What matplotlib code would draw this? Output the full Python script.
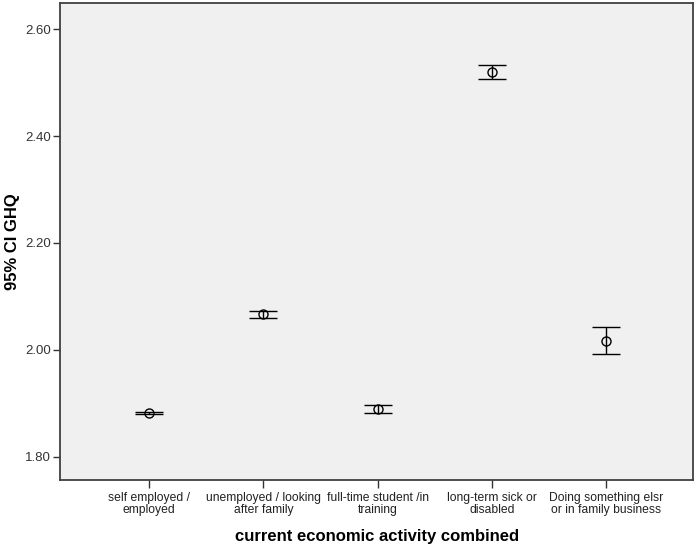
import matplotlib.pyplot as plt
import numpy as np

plt.rcParams['font.family'] = ['Liberation Sans', 'DejaVu Sans']

categories = [
    "self employed /\nemployed",
    "unemployed / looking\nafter family",
    "full-time student /in\ntraining",
    "long-term sick or\ndisabled",
    "Doing something elsr\nor in family business",
]
means = [1.883, 2.067, 1.890, 2.520, 2.017]
ci_low = [1.881, 2.060, 1.883, 2.507, 1.992]
ci_high = [1.885, 2.073, 1.898, 2.533, 2.043]
y_ticks = [1.80, 2.00, 2.20, 2.40, 2.60]


def main():
    fig = plt.figure(figsize=(6.98, 5.47), dpi=100)
    ax = fig.add_axes([0.086, 0.1225, 0.907, 0.872])
    ax.set_facecolor('#f0f0f0')

    x = np.arange(1, len(categories) + 1)
    means_arr = np.array(means)
    yerr = [means_arr - np.array(ci_low), np.array(ci_high) - means_arr]

    ax.errorbar(x, means_arr, yerr=yerr, fmt='o', mfc='none', mec='black',
                ms=6.5, mew=1.0, ecolor='black', elinewidth=1.0,
                capsize=10, capthick=1.3)

    ax.set_xlim(0.22, 5.76)
    ax.set_ylim(1.757, 2.6486)
    ax.set_xticks(x)
    ax.set_xticklabels(categories, fontsize=8.7, color='#222222',
                       linespacing=1.0)
    ax.set_yticks(y_ticks)
    ax.set_yticklabels([f"{v:.2f}" for v in y_ticks], fontsize=9.5,
                       color='#333333')
    ax.tick_params(axis='y', direction='out', length=5, width=1,
                   color='#333333', pad=1.5)
    ax.tick_params(axis='x', direction='out', length=6, width=1,
                   color='#333333', pad=3)

    for spine in ax.spines.values():
        spine.set_color('#404040')
        spine.set_linewidth(1.3)

    ax.set_ylabel('95% CI GHQ', fontsize=12, fontweight='bold', labelpad=4)
    ax.set_xlabel('current economic activity combined', fontsize=12,
                  fontweight='bold', labelpad=9)

    fig.savefig('out.png', dpi=100)


if __name__ == "__main__":
    main()
